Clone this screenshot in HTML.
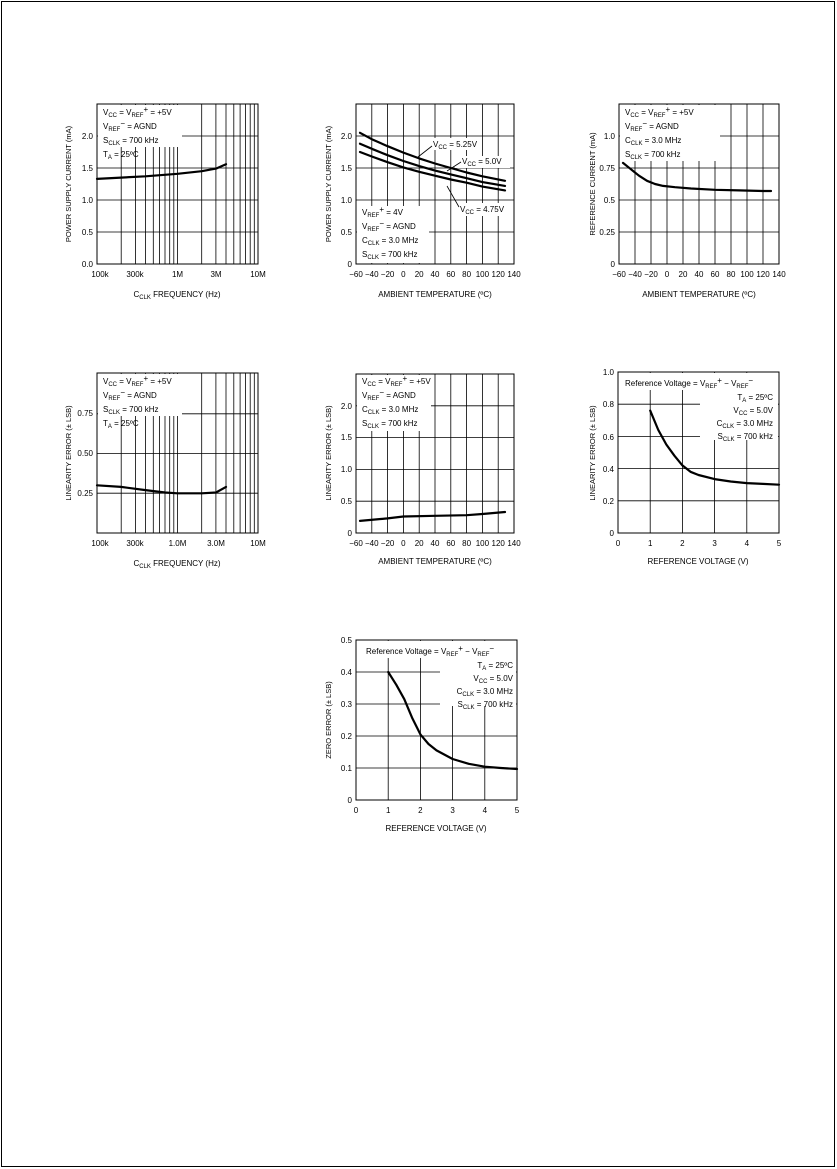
<!DOCTYPE html>
<html><head><meta charset="utf-8"><style>
html,body{margin:0;padding:0;background:#fff}
svg{display:block}
text{font-family:"Liberation Sans",sans-serif;font-size:8px;fill:#000}
.g{stroke:#000;stroke-width:0.8;fill:none}
.f{stroke:#000;stroke-width:1;fill:none}
.c{stroke:#000;stroke-width:2.2;fill:none;stroke-linejoin:round;stroke-linecap:round}
.s{font-size:6px}
</style></head><body>
<svg width="837" height="1169" viewBox="0 0 837 1169" xmlns="http://www.w3.org/2000/svg">
<rect x="1.5" y="1.5" width="833" height="1165" fill="none" stroke="#000" stroke-width="1"/>

<!-- ===== Chart 1 ===== -->
<g>
<path class="g" d="M121.2 104V264M135.4 104V264M145.5 104V264M153.3 104V264M159.6 104V264M165 104V264M169.7 104V264M173.8 104V264M177.5 104V264M201.7 104V264M215.9 104V264M226 104V264M233.8 104V264M240.1 104V264M245.5 104V264M250.2 104V264M254.3 104V264"/>
<path class="g" d="M97 232H258M97 200H258M97 168H258M97 136H258"/>
<rect x="98" y="105" width="84" height="42" fill="#fff"/>
<rect x="97" y="104" width="161" height="160" class="f"/>
<polyline class="c" points="97,178.9 121,177.6 145.5,176.3 177.5,173.8 201.7,171.2 216,168.6 226,164.2"/>
<text x="103" y="115">V<tspan class="s" dy="2">CC</tspan><tspan dy="-2"> = V</tspan><tspan class="s" dy="2">REF</tspan><tspan dy="-5">+</tspan><tspan dy="3"> = +5V</tspan></text>
<text x="103" y="129">V<tspan class="s" dy="2">REF</tspan><tspan dy="-5">−</tspan><tspan dy="3"> = AGND</tspan></text>
<text x="103" y="143">S<tspan class="s" dy="2">CLK</tspan><tspan dy="-2"> = 700 kHz</tspan></text>
<text x="103" y="157">T<tspan class="s" dy="2">A</tspan><tspan dy="-2"> = 25ºC</tspan></text>
<g text-anchor="end"><text x="93" y="267">0.0</text><text x="93" y="235">0.5</text><text x="93" y="203">1.0</text><text x="93" y="171">1.5</text><text x="93" y="139">2.0</text></g>
<g text-anchor="middle"><text x="100" y="277">100k</text><text x="135" y="277">300k</text><text x="177.5" y="277">1M</text><text x="216" y="277">3M</text><text x="258" y="277">10M</text>
<text x="177" y="297">C<tspan class="s" dy="2">CLK</tspan><tspan dy="-2"> FREQUENCY (Hz)</tspan></text></g>
<text transform="translate(71,184) rotate(-90)" text-anchor="middle" style="font-size:7.5px">POWER SUPPLY CURRENT (mA)</text>
</g>

<!-- ===== Chart 2 ===== -->
<g>
<path class="g" d="M371.8 104V264M387.6 104V264M403.4 104V264M419.2 104V264M435 104V264M450.8 104V264M466.6 104V264M482.4 104V264M498.2 104V264"/>
<path class="g" d="M356 232H514M356 200H514M356 168H514M356 136H514"/>
<rect x="357" y="206" width="72" height="57" fill="#fff"/>
<rect x="429" y="138" width="52" height="12" fill="#fff"/>
<rect x="455" y="156" width="55" height="12" fill="#fff"/>
<rect x="455" y="203" width="58" height="13" fill="#fff"/>
<rect x="356" y="104" width="158" height="160" class="f"/>
<polyline class="c" points="360,132.8 371.8,139.2 387.6,146.2 403.4,152.6 419.2,158.4 435,163.5 450.8,168 466.6,172.5 482.4,176.3 505,180.8"/>
<polyline class="c" points="360,143.7 371.8,148.8 387.6,155.2 403.4,161 419.2,166.1 435,170.6 450.8,174.4 466.6,178.2 482.4,182.1 505,185.9"/>
<polyline class="c" points="360,152 371.8,156.5 387.6,162.2 403.4,167.4 419.2,171.8 435,175.7 450.8,179.5 466.6,182.7 482.4,186.6 505,190.4"/>
<text x="433" y="147">V<tspan class="s" dy="2">CC</tspan><tspan dy="-2"> = 5.25V</tspan></text>
<text x="462" y="164">V<tspan class="s" dy="2">CC</tspan><tspan dy="-2"> = 5.0V</tspan></text>
<text x="460" y="212">V<tspan class="s" dy="2">CC</tspan><tspan dy="-2"> = 4.75V</tspan></text>
<path class="g" d="M432 146L418 157M461 162L447 171M459 207L447 186"/>
<text x="362" y="215">V<tspan class="s" dy="2">REF</tspan><tspan dy="-5">+</tspan><tspan dy="3"> = 4V</tspan></text>
<text x="362" y="229">V<tspan class="s" dy="2">REF</tspan><tspan dy="-5">−</tspan><tspan dy="3"> = AGND</tspan></text>
<text x="362" y="243">C<tspan class="s" dy="2">CLK</tspan><tspan dy="-2"> = 3.0 MHz</tspan></text>
<text x="362" y="257">S<tspan class="s" dy="2">CLK</tspan><tspan dy="-2"> = 700 kHz</tspan></text>
<g text-anchor="end"><text x="352" y="267">0</text><text x="352" y="235">0.5</text><text x="352" y="203">1.0</text><text x="352" y="171">1.5</text><text x="352" y="139">2.0</text></g>
<g text-anchor="middle"><text x="356" y="277">−60</text><text x="371.8" y="277">−40</text><text x="387.6" y="277">−20</text><text x="403.4" y="277">0</text><text x="419.2" y="277">20</text><text x="435" y="277">40</text><text x="450.8" y="277">60</text><text x="466.6" y="277">80</text><text x="482.4" y="277">100</text><text x="498.2" y="277">120</text><text x="514" y="277">140</text>
<text x="435" y="297">AMBIENT TEMPERATURE (ºC)</text></g>
<text transform="translate(331,184) rotate(-90)" text-anchor="middle" style="font-size:7.5px">POWER SUPPLY CURRENT (mA)</text>
</g>

<!-- ===== Chart 3 ===== -->
<g>
<path class="g" d="M635 104V264M651 104V264M667 104V264M683 104V264M699 104V264M715 104V264M731 104V264M747 104V264M763 104V264"/>
<path class="g" d="M619 232H779M619 200H779M619 168H779M619 136H779"/>
<rect x="620" y="105" width="100" height="56" fill="#fff"/>
<rect x="619" y="104" width="160" height="160" class="f"/>
<polyline class="c" points="623,162.9 631,169.3 639,175.7 647,180.8 655,184 663,185.9 675,187.2 691,188.5 715,189.8 739,190.4 763,191 771,191"/>
<text x="625" y="115">V<tspan class="s" dy="2">CC</tspan><tspan dy="-2"> = V</tspan><tspan class="s" dy="2">REF</tspan><tspan dy="-5">+</tspan><tspan dy="3"> = +5V</tspan></text>
<text x="625" y="129">V<tspan class="s" dy="2">REF</tspan><tspan dy="-5">−</tspan><tspan dy="3"> = AGND</tspan></text>
<text x="625" y="143">C<tspan class="s" dy="2">CLK</tspan><tspan dy="-2"> = 3.0 MHz</tspan></text>
<text x="625" y="157">S<tspan class="s" dy="2">CLK</tspan><tspan dy="-2"> = 700 kHz</tspan></text>
<g text-anchor="end"><text x="615" y="267">0</text><text x="615" y="235">0.25</text><text x="615" y="203">0.5</text><text x="615" y="171">0.75</text><text x="615" y="139">1.0</text></g>
<g text-anchor="middle"><text x="619" y="277">−60</text><text x="635" y="277">−40</text><text x="651" y="277">−20</text><text x="667" y="277">0</text><text x="683" y="277">20</text><text x="699" y="277">40</text><text x="715" y="277">60</text><text x="731" y="277">80</text><text x="747" y="277">100</text><text x="763" y="277">120</text><text x="779" y="277">140</text>
<text x="699" y="297">AMBIENT TEMPERATURE (ºC)</text></g>
<text transform="translate(595,184) rotate(-90)" text-anchor="middle" style="font-size:7.5px">REFERENCE CURRENT (mA)</text>
</g>

<!-- ===== Chart 4 ===== -->
<g>
<path class="g" d="M121.2 373V533M135.4 373V533M145.5 373V533M153.3 373V533M159.6 373V533M165 373V533M169.7 373V533M173.8 373V533M177.5 373V533M201.7 373V533M215.9 373V533M226 373V533M233.8 373V533M240.1 373V533M245.5 373V533M250.2 373V533M254.3 373V533"/>
<path class="g" d="M97 493.2H258M97 453.5H258M97 413.8H258"/>
<rect x="98" y="374" width="84" height="42" fill="#fff"/>
<rect x="97" y="373" width="161" height="160" class="f"/>
<polyline class="c" points="97,485.3 121,486.9 145.5,490.1 165,492.5 177.5,493.3 201.7,493.3 216,492.5 226,486.9"/>
<text x="103" y="384">V<tspan class="s" dy="2">CC</tspan><tspan dy="-2"> = V</tspan><tspan class="s" dy="2">REF</tspan><tspan dy="-5">+</tspan><tspan dy="3"> = +5V</tspan></text>
<text x="103" y="398">V<tspan class="s" dy="2">REF</tspan><tspan dy="-5">−</tspan><tspan dy="3"> = AGND</tspan></text>
<text x="103" y="412">S<tspan class="s" dy="2">CLK</tspan><tspan dy="-2"> = 700 kHz</tspan></text>
<text x="103" y="426">T<tspan class="s" dy="2">A</tspan><tspan dy="-2"> = 25ºC</tspan></text>
<g text-anchor="end"><text x="93" y="496">0.25</text><text x="93" y="456">0.50</text><text x="93" y="416">0.75</text></g>
<g text-anchor="middle"><text x="100" y="546">100k</text><text x="135" y="546">300k</text><text x="177.5" y="546">1.0M</text><text x="216" y="546">3.0M</text><text x="258" y="546">10M</text>
<text x="177" y="566">C<tspan class="s" dy="2">CLK</tspan><tspan dy="-2"> FREQUENCY (Hz)</tspan></text></g>
<text transform="translate(71,453) rotate(-90)" text-anchor="middle" style="font-size:7.5px">LINEARITY ERROR (± LSB)</text>
</g>

<!-- ===== Chart 5 ===== -->
<g>
<path class="g" d="M371.8 374V533M387.6 374V533M403.4 374V533M419.2 374V533M435 374V533M450.8 374V533M466.6 374V533M482.4 374V533M498.2 374V533"/>
<path class="g" d="M356 501.2H514M356 469.4H514M356 437.6H514M356 405.8H514"/>
<rect x="357" y="375" width="74" height="56" fill="#fff"/>
<rect x="356" y="374" width="158" height="159" class="f"/>
<polyline class="c" points="360,520.9 387.6,518.4 403.4,516.5 435,515.8 466.6,515.2 482.4,514 505,512"/>
<text x="362" y="384">V<tspan class="s" dy="2">CC</tspan><tspan dy="-2"> = V</tspan><tspan class="s" dy="2">REF</tspan><tspan dy="-5">+</tspan><tspan dy="3"> = +5V</tspan></text>
<text x="362" y="398">V<tspan class="s" dy="2">REF</tspan><tspan dy="-5">−</tspan><tspan dy="3"> = AGND</tspan></text>
<text x="362" y="412">C<tspan class="s" dy="2">CLK</tspan><tspan dy="-2"> = 3.0 MHz</tspan></text>
<text x="362" y="426">S<tspan class="s" dy="2">CLK</tspan><tspan dy="-2"> = 700 kHz</tspan></text>
<g text-anchor="end"><text x="352" y="536">0</text><text x="352" y="504">0.5</text><text x="352" y="472">1.0</text><text x="352" y="440">1.5</text><text x="352" y="409">2.0</text></g>
<g text-anchor="middle"><text x="356" y="546">−60</text><text x="371.8" y="546">−40</text><text x="387.6" y="546">−20</text><text x="403.4" y="546">0</text><text x="419.2" y="546">20</text><text x="435" y="546">40</text><text x="450.8" y="546">60</text><text x="466.6" y="546">80</text><text x="482.4" y="546">100</text><text x="498.2" y="546">120</text><text x="514" y="546">140</text>
<text x="435" y="564">AMBIENT TEMPERATURE (ºC)</text></g>
<text transform="translate(331,453) rotate(-90)" text-anchor="middle" style="font-size:7.5px">LINEARITY ERROR (± LSB)</text>
</g>

<!-- ===== Chart 6 ===== -->
<g>
<path class="g" d="M650.2 372V533M682.4 372V533M714.6 372V533M746.8 372V533"/>
<path class="g" d="M618 500.8H779M618 468.6H779M618 436.4H779M618 404.2H779"/>
<rect x="622" y="373" width="156" height="17" fill="#fff"/>
<rect x="700" y="390" width="78" height="50" fill="#fff"/>
<rect x="618" y="372" width="161" height="161" class="f"/>
<polyline class="c" points="650.2,410.6 658.3,430 666.3,444.5 674.4,455.7 682.4,465.4 690.5,471.8 698.5,475 714.6,479.1 730.7,481.5 746.8,483.1 762.9,483.9 779,484.7"/>
<text x="625" y="386">Reference Voltage = V<tspan class="s" dy="2">REF</tspan><tspan dy="-5">+</tspan><tspan dy="3"> − V</tspan><tspan class="s" dy="2">REF</tspan><tspan dy="-5">−</tspan></text>
<g text-anchor="end">
<text x="773" y="400">T<tspan class="s" dy="2">A</tspan><tspan dy="-2"> = 25ºC</tspan></text>
<text x="773" y="413">V<tspan class="s" dy="2">CC</tspan><tspan dy="-2"> = 5.0V</tspan></text>
<text x="773" y="426">C<tspan class="s" dy="2">CLK</tspan><tspan dy="-2"> = 3.0 MHz</tspan></text>
<text x="773" y="439">S<tspan class="s" dy="2">CLK</tspan><tspan dy="-2"> = 700 kHz</tspan></text>
<text x="614" y="536">0</text><text x="614" y="504">0.2</text><text x="614" y="472">0.4</text><text x="614" y="440">0.6</text><text x="614" y="407">0.8</text><text x="614" y="375">1.0</text></g>
<g text-anchor="middle"><text x="618" y="546">0</text><text x="650.2" y="546">1</text><text x="682.4" y="546">2</text><text x="714.6" y="546">3</text><text x="746.8" y="546">4</text><text x="779" y="546">5</text>
<text x="698" y="564">REFERENCE VOLTAGE (V)</text></g>
<text transform="translate(595,453) rotate(-90)" text-anchor="middle" style="font-size:7.5px">LINEARITY ERROR (± LSB)</text>
</g>

<!-- ===== Chart 7 ===== -->
<g>
<path class="g" d="M388.2 640V800M420.4 640V800M452.6 640V800M484.8 640V800"/>
<path class="g" d="M356 768H517M356 736H517M356 704H517M356 672H517"/>
<rect x="360" y="641" width="156" height="17" fill="#fff"/>
<rect x="440" y="658" width="76" height="48" fill="#fff"/>
<rect x="356" y="640" width="161" height="160" class="f"/>
<polyline class="c" points="388.2,672 396.3,684.8 404.3,699.2 412.4,718.4 420.4,734.4 428.5,744 436.5,750.4 452.6,759 468.7,763.8 484.8,766.7 500.9,768 517,769"/>
<text x="366" y="654">Reference Voltage = V<tspan class="s" dy="2">REF</tspan><tspan dy="-5">+</tspan><tspan dy="3"> − V</tspan><tspan class="s" dy="2">REF</tspan><tspan dy="-5">−</tspan></text>
<g text-anchor="end">
<text x="513" y="668">T<tspan class="s" dy="2">A</tspan><tspan dy="-2"> = 25ºC</tspan></text>
<text x="513" y="681">V<tspan class="s" dy="2">CC</tspan><tspan dy="-2"> = 5.0V</tspan></text>
<text x="513" y="694">C<tspan class="s" dy="2">CLK</tspan><tspan dy="-2"> = 3.0 MHz</tspan></text>
<text x="513" y="707">S<tspan class="s" dy="2">CLK</tspan><tspan dy="-2"> = 700 kHz</tspan></text>
<text x="352" y="803">0</text><text x="352" y="771">0.1</text><text x="352" y="739">0.2</text><text x="352" y="707">0.3</text><text x="352" y="675">0.4</text><text x="352" y="643">0.5</text></g>
<g text-anchor="middle"><text x="356" y="813">0</text><text x="388.2" y="813">1</text><text x="420.4" y="813">2</text><text x="452.6" y="813">3</text><text x="484.8" y="813">4</text><text x="517" y="813">5</text>
<text x="436" y="831">REFERENCE VOLTAGE (V)</text></g>
<text transform="translate(331,720) rotate(-90)" text-anchor="middle" style="font-size:7.5px">ZERO ERROR (± LSB)</text>
</g>
</svg>
</body></html>
